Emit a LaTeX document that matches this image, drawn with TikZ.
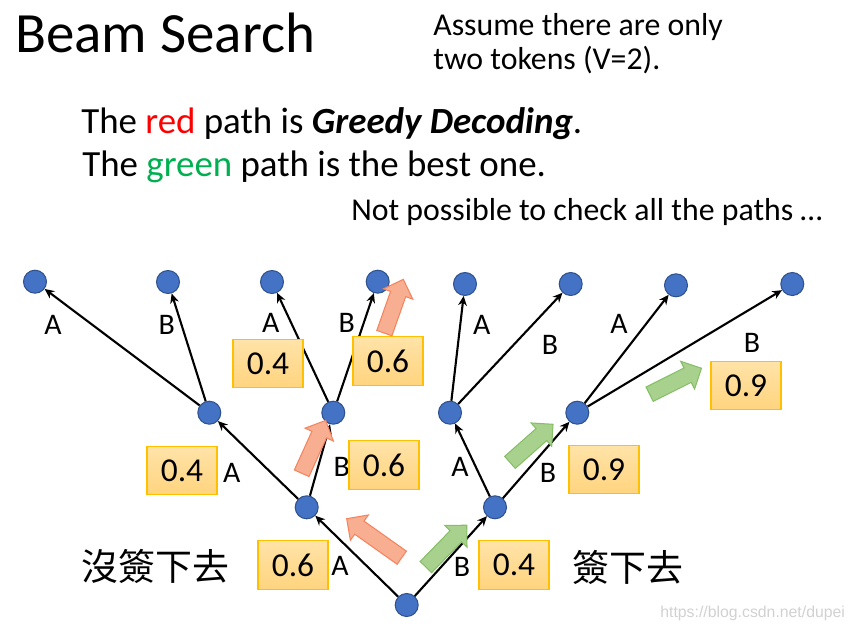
\documentclass[tikz,border=0pt]{standalone}
\usepackage{fontspec}
\setmainfont{Carlito}
\newfontfamily\cjkfont{Noto Sans CJK TC}
\newfontfamily\urlfont{Liberation Sans}
\usetikzlibrary{arrows.meta,shapes.arrows}
\definecolor{tokenblue}{HTML}{4472C4}
\definecolor{tokenline}{HTML}{2F528F}
\definecolor{probtop}{HTML}{FFE3A8}
\definecolor{probbot}{HTML}{FFD47E}
\definecolor{probline}{HTML}{FFC000}
\definecolor{greedyfill}{HTML}{F8AE90}
\definecolor{greedyline}{HTML}{F4845F}
\definecolor{bestfill}{HTML}{A9D18E}
\definecolor{bestline}{HTML}{86BF67}
\definecolor{redword}{HTML}{FF0000}
\definecolor{greenword}{HTML}{00B050}
\tikzset{
  % node styles (tokens, probability boxes, branch letters)
  token/.style={circle,draw=tokenline,fill=tokenblue,line width=.6pt,inner sep=0pt,minimum size=.46cm},
  prob/.style={draw=probline,top color=probtop,bottom color=probbot,line width=.6pt,
    minimum width=1.4cm,minimum height=.97cm,inner sep=0pt,font=\fontsize{19}{22}\selectfont},
  lbl/.style={inner sep=0pt,font=\fontsize{17}{20}\selectfont},
  note/.style={anchor=base west,inner sep=0pt},
  % tree edges
  branch/.style={-{Stealth[length=5.5pt,width=5pt]},line width=1.2pt},
  % fat arrows next to the red (greedy) and the green (best) path
  % gebruik: \node[greedy,rotate=hoek,minimum height=lengte] at (midden) {};
  % the shaft is 2*inner sep wide, the head sticks out .15cm on each side
  fat/.style={single arrow,single arrow head extend=.15cm,inner sep=.15cm,line width=.6pt},
  greedy/.style={fat,draw=greedyline,fill=greedyfill},
  best/.style={fat,draw=bestline,fill=bestfill},
}
\begin{document}
\begin{tikzpicture}[x=0.02cm,y=-0.02cm]
  \useasboundingbox (0,0) rectangle (852,629);
  % titles
  \node[note,font=\fontsize{32.4}{38}\selectfont] (title) at (15,52.7) {Beam Search};
  \node[note,font=\fontsize{18.1}{22}\selectfont] (assume1) at (433,35) {Assume there are only};
  \node[note,font=\fontsize{18.1}{22}\selectfont] (assume2) at (433,69.5) {two tokens (V=2).};
  \node[note,font=\fontsize{21}{25}\selectfont] (redline) at (81,133.3)
    {The \textcolor{redword}{red} path is \textbf{\textit{Greedy Decoding}}.};
  \node[note,font=\fontsize{21}{25}\selectfont] (greenline) at (82,176)
    {The \textcolor{greenword}{green} path is the best one.};
  \node[note,font=\fontsize{18.1}{22}\selectfont] (notall) at (351,220) {Not possible to check all the paths …};
  % tree
  \node[token] (r) at (406.7,605) {};
  \node[token] (a) at (306.7,507.3) {};
  \node[token] (b) at (495,507.3) {};
  \node[token] (aa) at (209.3,412.7) {};
  \node[token] (ab) at (333.3,412.7) {};
  \node[token] (ba) at (450,412.7) {};
  \node[token] (bb) at (577.3,412.7) {};
  \node[token] (aaa) at (35,281.7) {};
  \node[token] (aab) at (168,282) {};
  \node[token] (aba) at (272,282) {};
  \node[token] (abb) at (377.7,281.7) {};
  \node[token] (baa) at (465,284) {};
  \node[token] (bab) at (570.7,284) {};
  \node[token] (bba) at (676,285.3) {};
  \node[token] (bbb) at (792.3,284) {};
  \draw[branch] (r) -- (a);
  \draw[branch] (r) -- (b);
  \draw[branch] (a) -- (aa);
  \draw[branch] (a) -- (ab);
  \draw[branch] (b) -- (ba);
  \draw[branch] (b) -- (bb);
  \draw[branch] (aa) -- (aaa);
  \draw[branch] (aa) -- (aab);
  \draw[branch] (ab) -- (aba);
  \draw[branch] (ab) -- (abb);
  \draw[branch] (ba) -- (baa);
  \draw[branch] (ba) -- (bab);
  \draw[branch] (bb) -- (bba);
  \draw[branch] (bb) -- (bbb);
  % branch letters
  \node[lbl] (lr-a) at (340,565.7) {A};
  \node[lbl] (lr-b) at (462,566.7) {B};
  \node[lbl] (la-aa) at (231.7,473) {A};
  \node[lbl] (la-ab) at (341.7,466.7) {B};
  \node[lbl] (lb-ba) at (460,466.7) {A};
  \node[lbl] (lb-bb) at (548,473) {B};
  \node[lbl] (laa-a) at (53,325) {A};
  \node[lbl] (laa-b) at (166.7,325) {B};
  \node[lbl] (lab-a) at (270.7,323) {A};
  \node[lbl] (lab-b) at (346.7,323) {B};
  \node[lbl] (lba-a) at (481.7,325) {A};
  \node[lbl] (lba-b) at (550,345) {B};
  \node[lbl] (lbb-a) at (619,324.3) {A};
  \node[lbl] (lbb-b) at (752,342.7) {B};
  % probabilities
  \node[prob] (p-a) at (293,565) {0.6};
  \node[prob] (p-b) at (514,565) {0.4};
  \node[prob] (p-aa) at (182,470.5) {0.4};
  \node[prob] (p-ab) at (384,465) {0.6};
  \node[prob] (p-bb) at (604,469.5) {0.9};
  \node[prob] (p-aba) at (268,363.5) {0.4};
  \node[prob] (p-abb) at (388,361) {0.6};
  \node[prob] (p-bbb) at (746,385.5) {0.9};
  % fat arrows
  \node[greedy,rotate=144.7,minimum height=1.35cm] (g1) at (377.5,540.5) {};
  \node[greedy,rotate=65.6,minimum height=1.16cm] (g2) at (312,450.5) {};
  \node[greedy,rotate=70.6,minimum height=1.14cm] (g3) at (392.5,310) {};
  \node[best,rotate=45.7,minimum height=1.17cm] (s1) at (443.5,549) {};
  \node[best,rotate=41.5,minimum height=1.15cm] (s2) at (528.5,446) {};
  \node[best,rotate=26.6,minimum height=1.16cm] (s3) at (672,383) {};
  % chinese notes
  \node[anchor=west,inner sep=0pt,font=\cjkfont\fontsize{21}{25}\selectfont] (nosign) at (81,566) {沒簽下去};
  \node[anchor=west,inner sep=0pt,font=\cjkfont\fontsize{21}{25}\selectfont] (sign) at (572,567) {簽下去};
  \node[note,font=\urlfont\fontsize{9}{11}\selectfont,text=black!18] (mark) at (660,617) {https://blog.csdn.net/dupei};
\end{tikzpicture}
\end{document}
